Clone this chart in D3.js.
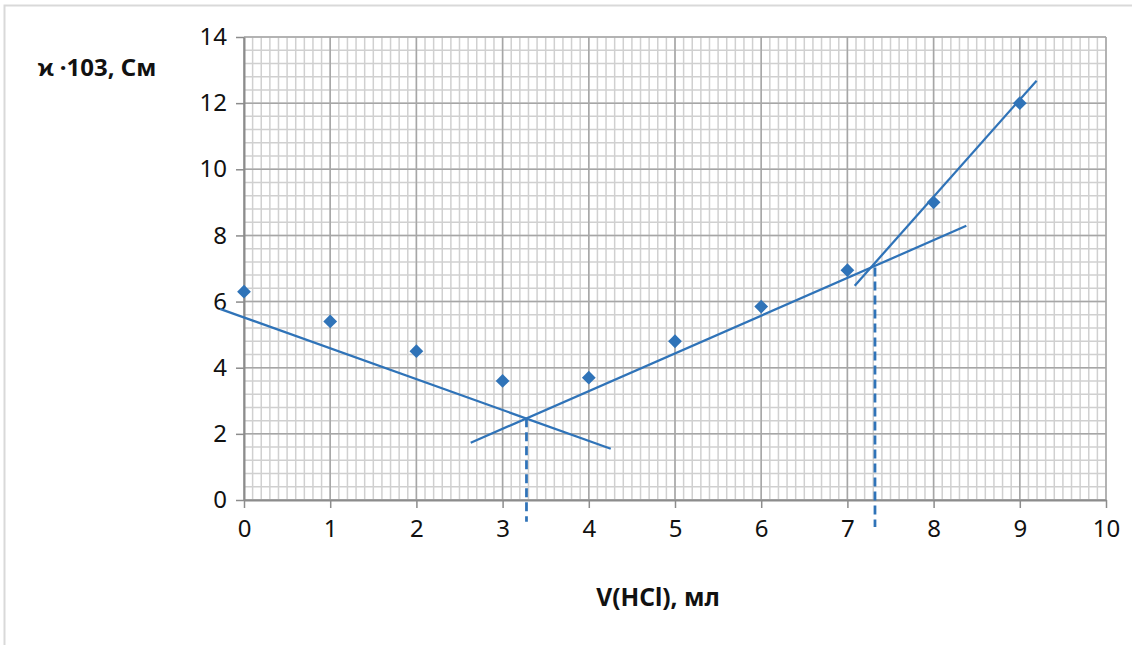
<!DOCTYPE html>
<html>
<head>
<meta charset="utf-8">
<script src="https://cdn.jsdelivr.net/npm/d3@7"></script>
<style>
  body { margin: 0; background: #fff; }
  svg { display: block; font-family: "Noto Sans", "Open Sans", sans-serif; }
</style>
</head>
<body>
<script>
// Data
const volume = [0, 1, 2, 3, 4, 5, 6, 7, 8, 9];
const kappa = [6.3, 5.4, 4.5, 3.6, 3.7, 4.8, 5.85, 6.95, 9.0, 12.0];

// hand-drawn fit lines (data units)
const fitDown = [[-0.28, 5.78], [4.255, 1.55]];
const fitUp = [[2.63, 1.73], [8.38, 8.29]];
const fitSteep = [[7.085, 6.48], [9.195, 12.68]];

// dashed drops from the intersections
const drops = [
    [[3.277, 2.47], [3.277, -0.66]],
    [[7.32, 7.03], [7.32, -0.82]]
];

const xTicks = [0, 1, 2, 3, 4, 5, 6, 7, 8, 9, 10];
const yTicks = [0, 2, 4, 6, 8, 10, 12, 14];

const width = 1132;
const height = 645;
const margin = { left: 244, right: 1106, top: 37, bottom: 500 };
const blue = "#2f73b8";

const svg = d3.select("body").append("svg")
    .attr("width", width)
    .attr("height", height);

// chart frame
svg.append("rect")
    .attr("x", 4.5).attr("y", 5.5)
    .attr("width", width + 10).attr("height", height + 10)
    .attr("fill", "none")
    .attr("stroke", "#d9d9d9")
    .attr("stroke-width", 2);

const x = d3.scaleLinear().domain([0, 10]).range([margin.left, margin.right]);
const y = d3.scaleLinear().domain([0, 14]).range([margin.bottom, margin.top]);

// Grid
const minorX = d3.range(0, 101).map(i => i / 10);
const minorY = d3.range(0, 36).map(i => i * 0.4);

const grid = svg.append("g");
grid.selectAll(".mx").data(minorX).join("line")
    .attr("x1", d => x(d)).attr("x2", d => x(d))
    .attr("y1", y(0)).attr("y2", y(14))
    .attr("stroke", "#d0d0d0").attr("stroke-width", 1.5);
grid.selectAll(".my").data(minorY).join("line")
    .attr("x1", x(0)).attr("x2", x(10))
    .attr("y1", d => y(d)).attr("y2", d => y(d))
    .attr("stroke", "#d0d0d0").attr("stroke-width", 1.5);
grid.selectAll(".Mx").data(xTicks).join("line")
    .attr("x1", d => x(d)).attr("x2", d => x(d))
    .attr("y1", y(0)).attr("y2", y(14))
    .attr("stroke", "#a6a6a6").attr("stroke-width", 1.5);
grid.selectAll(".My").data(yTicks).join("line")
    .attr("x1", x(0)).attr("x2", x(10))
    .attr("y1", d => y(d)).attr("y2", d => y(d))
    .attr("stroke", "#a6a6a6").attr("stroke-width", 1.5);

// Axes
const xAxis = svg.append("g")
    .attr("transform", `translate(0,${y(0)})`)
    .call(d3.axisBottom(x).tickValues(xTicks).tickSize(8).tickPadding(12).tickSizeOuter(0));
const yAxis = svg.append("g")
    .attr("transform", `translate(${x(0)},0)`)
    .call(d3.axisLeft(y).tickValues(yTicks).tickSize(8).tickPadding(9).tickSizeOuter(0));

[xAxis, yAxis].forEach(a => {
    a.select(".domain").attr("stroke", "#8c8c8c").attr("stroke-width", 2);
    a.selectAll(".tick line").attr("stroke", "#8c8c8c").attr("stroke-width", 1.5);
    a.selectAll(".tick text")
        .attr("fill", "#111")
        .style("font-size", "24px")
        .style("font-family", "'Noto Sans', 'Open Sans', sans-serif");
});

// Fit lines
const line = d3.line().x(d => x(d[0])).y(d => y(d[1]));
svg.append("g").selectAll("path")
    .data([fitDown, fitUp, fitSteep])
    .join("path")
    .attr("d", line)
    .attr("fill", "none")
    .attr("stroke", blue)
    .attr("stroke-width", 2.25);

svg.append("g").selectAll("path")
    .data(drops)
    .join("path")
    .attr("d", line)
    .attr("fill", "none")
    .attr("stroke", blue)
    .attr("stroke-width", 2.75)
    .attr("stroke-dasharray", "9,5");

// Points
const pts = volume.map((v, i) => [v, kappa[i]]);
svg.append("g").selectAll("path")
    .data(pts)
    .join("path")
    .attr("transform", d => `translate(${x(d[0])},${y(d[1])}) rotate(45)`)
    .attr("d", d3.symbol().type(d3.symbolSquare).size(95))
    .attr("fill", blue);

// Axis titles
svg.append("text")
    .attr("x", 97).attr("y", 76)
    .attr("text-anchor", "middle")
    .style("font-size", "24px")
    .style("font-weight", "bold")
    .attr("fill", "#111")
    .text("ϰ ·103, См");

svg.append("text")
    .attr("x", 658).attr("y", 606)
    .attr("text-anchor", "middle")
    .style("font-size", "24.5px")
    .style("font-weight", "bold")
    .attr("fill", "#111")
    .text("V(HCl), мл");
</script>
</body>
</html>
